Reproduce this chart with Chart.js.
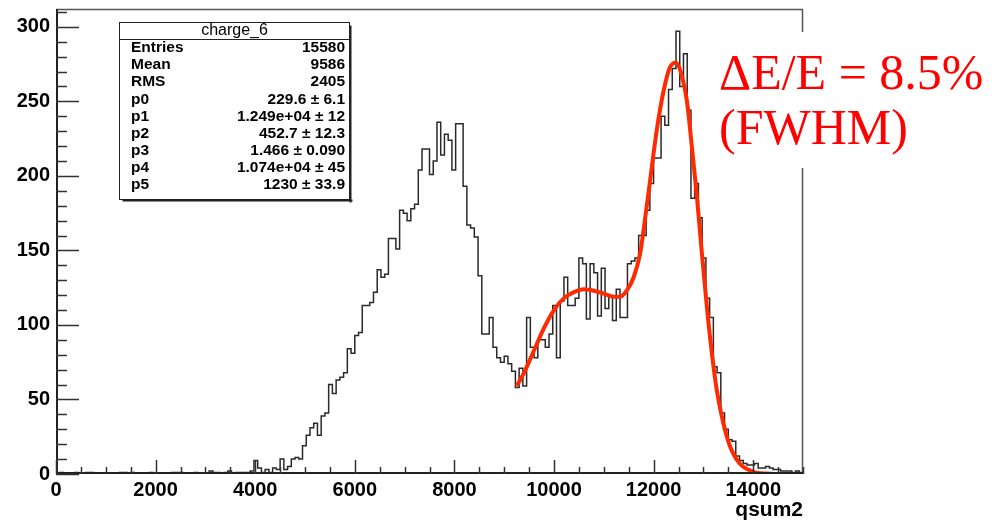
<!DOCTYPE html>
<html>
<head>
<meta charset="utf-8">
<script src="https://cdn.jsdelivr.net/npm/chart.js@4.4.1/dist/chart.umd.min.js"></script>
<style>
html,body{margin:0;padding:0;background:#fff;}
#wrap{width:999px;height:522px;position:relative;}
</style>
</head>
<body>
<div id="wrap"><canvas id="c" width="999" height="522"></canvas></div>
<script>
// ---- data ----
const xMin = 0, xMax = 15000;
const counts = [
0,1,0,0,0,1,0,0,1,1,
0,0,0,0,0,0,0,1,1,0,
1,0,0,0,0,1,0,0,0,0,
0,1,1,1,0,0,0,1,0,0,
0,2,1,1,0,1,2,0,1,1,
1,1,2,9,4,1,3,1,4,3,
10,3,5,10,11,10,19,26,31,34,
26,39,41,60,54,63,65,68,84,81,
93,95,113,113,115,122,137,132,134,158,
158,151,177,175,170,178,181,204,218,218,
201,210,236,214,228,224,204,235,235,193,
167,165,159,133,94,94,105,85,78,75,
79,74,69,58,71,59,105,85,78,90,
90,85,94,113,78,116,132,113,113,118,
145,141,104,141,135,106,138,111,119,103,
124,105,105,141,143,145,160,160,177,195,
212,212,240,234,258,272,297,260,282,244,
185,195,172,145,118,105,72,68,41,30,
23,22,12,9,7,6,6,7,4,4,
5,4,3,3,2,2,2,1,2,1
];
const fitX = [9250,9400,9600,9800,10000,10200,10400,10600,10800,11000,11200,11330,11460,11600,11730,11800,11930,12060,12200,12330,12450,12560,12670,12770,12870,12970,13070,13170,13270,13400,13530,13730,14000,14270,14400];
const fitY = [59,68,83,98,110,118,122,124,123,121,119,119,123,132,148,164,197,230,257,273,276,268,250,219,186,148,112,81,56,34,19,7,1.5,0.3,0.2];
const xTicks = [0,2000,4000,6000,8000,10000,12000,14000];
const yTicks = [0,50,100,150,200,250,300];
const yMax = 312;
const histName = "charge_6";
const statLabels = ["Entries","Mean","RMS","p0","p1","p2","p3","p4","p5"];
const statValues = ["15580","9586","2405","229.6 \u00b1 6.1","1.249e+04 \u00b1 12","452.7 \u00b1 12.3","1.466 \u00b1 0.090","1.074e+04 \u00b1 45","1230 \u00b1 33.9"];
const xTitle = "qsum2";
const noteLines = ["\u0394E/E = 8.5%","(FWHM)"];

// ---- build datasets ----
const bw = (xMax - xMin) / counts.length;
const histPts = counts.map((c,i)=>({x: xMin + i*bw, y: c}));
histPts.push({x: xMax, y: counts[counts.length-1]});
const fitPts = fitX.map((x,i)=>({x: x, y: fitY[i]}));

const deco = {
  id: 'deco',
  afterDraw(chart) {
    const ctx = chart.ctx, a = chart.chartArea;
    const xs = chart.scales.x, ys = chart.scales.y;
    ctx.save();
    // frame
    ctx.strokeStyle = '#555'; ctx.lineWidth = 1.5;
    ctx.beginPath();
    ctx.moveTo(a.left, a.top + 0.5); ctx.lineTo(a.right, a.top + 0.5);
    ctx.moveTo(a.right - 0.5, a.top); ctx.lineTo(a.right - 0.5, a.bottom);
    ctx.stroke();
    ctx.strokeStyle = '#222'; ctx.lineWidth = 2;
    ctx.beginPath();
    ctx.moveTo(a.left + 1, a.top); ctx.lineTo(a.left + 1, a.bottom);
    ctx.moveTo(a.left, a.bottom - 1); ctx.lineTo(a.right, a.bottom - 1);
    ctx.stroke();
    // ticks (inside)
    ctx.lineWidth = 1.5; ctx.strokeStyle = '#333';
    ctx.beginPath();
    for (let v = 0; v <= yMax; v += 10) {
      const y = Math.round(ys.getPixelForValue(v)) + 0.5;
      const len = (v % 50 === 0) ? 23 : 11;
      ctx.moveTo(a.left, y); ctx.lineTo(a.left + len, y);
    }
    for (let v = xMin; v <= xMax; v += 500) {
      const x = Math.round(xs.getPixelForValue(v)) + 0.5;
      const len = (v % 2000 === 0) ? 14 : 7;
      ctx.moveTo(x, a.bottom); ctx.lineTo(x, a.bottom - len);
    }
    ctx.stroke();
    // x title
    ctx.fillStyle = '#000';
    ctx.font = 'bold 21px "Liberation Sans", Arial, sans-serif';
    ctx.textAlign = 'right'; ctx.textBaseline = 'alphabetic';
    ctx.fillText(xTitle, a.right, 516);
    // stats box
    const bx = 119.5, by = 22.5, bW = 230, bH = 177;
    ctx.fillStyle = '#fff';
    ctx.fillRect(bx, by, bW, bH);
    ctx.fillStyle = '#222';
    ctx.fillRect(bx + bW, by + 3, 2, bH);
    ctx.fillRect(bx + 3, by + bH, bW, 2);
    ctx.strokeStyle = '#222'; ctx.lineWidth = 1;
    ctx.strokeRect(bx, by, bW, bH);
    ctx.beginPath(); ctx.moveTo(bx, 39.5); ctx.lineTo(bx + bW, 39.5); ctx.stroke();
    ctx.fillStyle = '#000';
    ctx.font = '16px "Liberation Sans", Arial, sans-serif';
    ctx.textAlign = 'center'; ctx.textBaseline = 'middle';
    ctx.fillText(histName, bx + bW/2, 31);
    ctx.font = 'bold 15.5px "Liberation Sans", Arial, sans-serif';
    statLabels.forEach((l,i)=>{
      const y = 48 + i*17.1;
      ctx.textAlign = 'left'; ctx.fillText(l, 131, y);
      ctx.textAlign = 'right'; ctx.fillText(statValues[i], 345, y);
    });
    // note
    ctx.fillStyle = '#fff';
    ctx.fillRect(708, 32, 291, 136);
    ctx.fillStyle = '#ff0000';
    ctx.font = '50px "Liberation Serif", "DejaVu Serif", serif';
    ctx.textAlign = 'left'; ctx.textBaseline = 'alphabetic';
    ctx.fillText(noteLines[0], 719, 89);
    ctx.fillText(noteLines[1], 719, 144);
    ctx.restore();
  }
};

new Chart(document.getElementById('c'), {
  type: 'line',
  data: {
    datasets: [
      { data: histPts, stepped: true, borderColor: '#2a2a2a', borderWidth: 1.5, pointRadius: 0, fill: false, order: 2 },
      { data: fitPts, borderColor: '#ff2a00', borderWidth: 4, pointRadius: 0, fill: false, cubicInterpolationMode: 'monotone', order: 1 }
    ]
  },
  options: {
    responsive: false, animation: false, devicePixelRatio: 1,
    layout: { padding: { left: 0, right: 196, top: 9, bottom: 0 } },
    plugins: { legend: { display: false }, tooltip: { enabled: false }, title: { display: false } },
    scales: {
      x: {
        type: 'linear', min: xMin, max: xMax,
        grid: { display: false }, border: { display: false },
        afterBuildTicks: s => { s.ticks = xTicks.map(v=>({value:v})); },
        afterFit: s => { s.height = 48; s.paddingLeft = 0; s.paddingRight = 0; },
        ticks: { padding: -4, maxRotation: 0, autoSkip: false, color: '#000', callback: v => String(v), font: { family: '"Liberation Sans", Arial, sans-serif', size: 20, weight: 'bold' } }
      },
      y: {
        type: 'linear', min: 0, max: yMax,
        grid: { display: false }, border: { display: false },
        afterBuildTicks: s => { s.ticks = yTicks.map(v=>({value:v})); },
        afterFit: s => { s.width = 56; s.paddingTop = 0; s.paddingBottom = 0; },
        ticks: { padding: -2, autoSkip: false, color: '#000', callback: v => String(v), font: { family: '"Liberation Sans", Arial, sans-serif', size: 20, weight: 'bold' } }
      }
    }
  },
  plugins: [deco]
});
</script>
</body>
</html>
